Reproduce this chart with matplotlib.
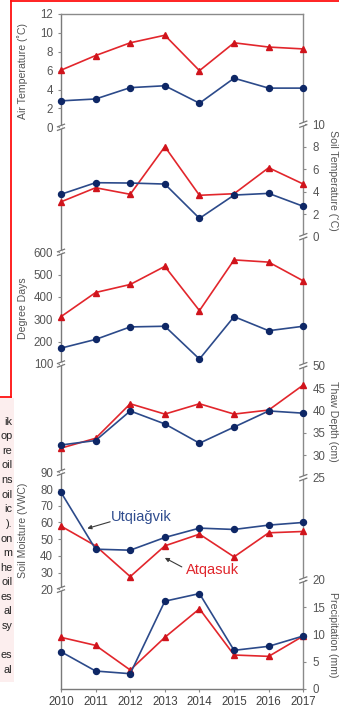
import matplotlib
matplotlib.use('Agg')
import matplotlib.pyplot as plt
from matplotlib.lines import Line2D
from matplotlib.patches import Rectangle

plt.rcParams['font.family'] = ['Liberation Sans', 'DejaVu Sans']

# ---------------- data ----------------
years = [2010, 2011, 2012, 2013, 2014, 2015, 2016, 2017]
air_utq = [2.8, 3.0, 4.2, 4.4, 2.55, 5.2, 4.15, 4.15]
air_atq = [6.05, 7.6, 8.95, 9.75, 6.0, 8.95, 8.5, 8.3]
soil_utq = [3.77, 4.8, 4.77, 4.68, 1.63, 3.7, 3.85, 2.7]
soil_atq = [3.1, 4.35, 3.77, 8.0, 3.68, 3.82, 6.13, 4.68]
dd_utq = [171, 210, 266, 269, 122, 312, 249, 269]
dd_atq = [312, 420, 456, 537, 339, 566, 556, 472]
thaw_utq = [32.3, 33.3, 39.9, 37.0, 32.7, 36.3, 39.9, 39.4]
thaw_atq = [31.6, 33.8, 41.5, 39.2, 41.5, 39.2, 40.1, 45.7]
moist_utq = [78, 44, 43.4, 51, 56.6, 55.8, 58.4, 60]
moist_atq = [57.8, 46, 27.6, 46, 53, 39.4, 53.8, 54.6]
precip_utq = [6.8, 3.25, 2.76, 16.1, 17.5, 7.06, 7.8, 9.7]
precip_atq = [9.45, 7.97, 3.44, 9.45, 14.7, 6.2, 5.95, 9.7]

site_names = ['Utqiağvik', 'Atqasuk']
panel_labels = ['Air Temperature (˚C)', 'Soil Temperature (˚C)', 'Degree Days',
                'Thaw Depth (cm)', 'Soil Moisture (VWC)', 'Precipitation (mm)']
side_fragments = ['ik', 'op', 're', 'oil', 'ns', 'oil', 'ic', ').', 'on', 'm',
                  'he', 'oil', 'es', 'al', 'sy', '', 'es', 'al']

# ---------------- style ----------------
W, H = 339, 707
BLUE_L, BLUE_M = '#2C4A8A', '#0E2766'
RED_L, RED_M = '#E2262C', '#D0141C'
SPINE = '#8A8A8A'
TXT = '#555555'

fig = plt.figure(figsize=(W / 100, H / 100), dpi=100)
fig.patch.set_facecolor('white')

X0, X1 = 61.0, 303.3


def fx(px):
    return px / W


def fy(py):
    return 1 - py / H


def px_axes(top, bot, x0=X0, x1=X1):
    return fig.add_axes([fx(x0), fy(bot), (x1 - x0) / W, (bot - top) / H])


# frame axes (continuous spines + year axis)
frame = px_axes(14.0, 688.7)
frame.set_xlim(years[0], years[-1])
frame.set_ylim(0, 1)
frame.set_yticks([])
frame.set_xticks(years)
frame.set_xticklabels([str(y) for y in years])
for s in frame.spines.values():
    s.set_color(SPINE)
    s.set_linewidth(1.0)
frame.spines['left'].set_color('#7A7A7A')
frame.spines['bottom'].set_color('#7A7A7A')
frame.tick_params(axis='x', direction='out', length=2.5, width=0.8, color=SPINE,
                  labelsize=8.3, labelcolor='#404040', pad=3)

panels = [
    # top px, bottom px, ylim, ticks, side, utq, atq
    (14.0, 127.3, (0, 12), range(0, 13, 2), 'left', air_utq, air_atq),
    (124.2, 236.7, (0, 10), range(0, 11, 2), 'right', soil_utq, soil_atq),
    (252.3, 364.0, (100, 600), range(100, 601, 100), 'left', dd_utq, dd_atq),
    (365.7, 477.7, (25, 50), range(25, 51, 5), 'right', thaw_utq, thaw_atq),
    (472.3, 589.3, (20, 90), range(20, 91, 10), 'left', moist_utq, moist_atq),
    (580.0, 688.7, (0, 20), range(0, 21, 5), 'right', precip_utq, precip_atq),
]

axes = []
for i, (top, bot, ylim, ticks, side, utq, atq) in enumerate(panels):
    ax = px_axes(top, bot)
    ax.set_facecolor('none')
    ax.set_xlim(years[0], years[-1])
    ax.set_ylim(*ylim)
    ax.set_xticks([])
    for s in ax.spines.values():
        s.set_visible(False)
    ax.set_yticks(list(ticks))
    if side == 'right':
        ax.yaxis.tick_right()
        ax.tick_params(axis='y', direction='out', length=2.2, width=0.8, color=SPINE,
                       labelsize=8.3, labelcolor=TXT, pad=4.5)
    else:
        ax.yaxis.tick_left()
        ax.tick_params(axis='y', direction='out', length=2.2, width=0.8, color=SPINE,
                       labelsize=8.3, labelcolor=TXT, pad=3.5)
    ax.plot(years, atq, color=RED_L, lw=1.2, marker='^', ms=4.6,
            mfc=RED_M, mec=RED_M, clip_on=False, zorder=3)
    ax.plot(years, utq, color=BLUE_L, lw=1.2, marker='o', ms=4.3,
            mfc=BLUE_M, mec=BLUE_M, clip_on=False, zorder=4)
    # axis label
    cy = (top + bot) / 2
    if side == 'left':
        fig.text(fx(22.5), fy(cy), panel_labels[i], rotation=90, ha='center',
                 va='center', fontsize=7.6, color=TXT)
    else:
        fig.text(fx(333.5), fy(cy), panel_labels[i], rotation=270, ha='center',
                 va='center', fontsize=7.6, color=TXT)
    axes.append(ax)

# annotations on soil moisture panel
ax_m = axes[4]
ax_m.text(2012.33, 63.0, site_names[0], color='#2F4C8E', fontsize=10.5,
          ha='center', va='center')
ax_m.annotate('', xy=(2010.76, 56.4), xytext=(2011.42, 60.4),
              arrowprops=dict(arrowstyle='-|>', color='#3A3A3A', lw=0.8,
                              mutation_scale=6, shrinkA=0, shrinkB=0))
ax_m.text(2014.39, 31.4, site_names[1], color='#E0262C', fontsize=10.5,
          ha='center', va='center')
ax_m.annotate('', xy=(2013.0, 38.8), xytext=(2013.49, 33.4),
              arrowprops=dict(arrowstyle='-|>', color='#3A3A3A', lw=0.8,
                              mutation_scale=6, shrinkA=0, shrinkB=0))


# axis break marks
def brk(xp, yp):
    fig.add_artist(Rectangle((fx(xp - 1.2), fy(yp + 2.0)), 2.4 / W, 4.0 / H,
                             transform=fig.transFigure, facecolor='white',
                             edgecolor='none', zorder=5))
    for dy in (-1.8, 1.8):
        fig.add_artist(Line2D([fx(xp - 3.5), fx(xp + 3.5)],
                              [fy(yp + dy + 1.3), fy(yp + dy - 1.3)],
                              transform=fig.transFigure, color='#777777',
                              lw=0.9, zorder=6))


for yp in (127.3, 252.3, 364.0, 472.3, 589.3):
    brk(X0, yp)
for yp in (124.2, 236.7, 365.7, 477.7, 580.0):
    brk(X1, yp)

# neighbouring page elements (cropped)
fig.add_artist(Rectangle((0, fy(682)), fx(13.5), (682 - 398) / H,
                         transform=fig.transFigure, facecolor='#FCEEEE',
                         edgecolor='none', zorder=0))
for k, frag in enumerate(side_fragments):
    if frag:
        fig.text(fx(12.3), fy(421.7 + 14.6 * k), frag, ha='right', va='center',
                 fontsize=7.8, color='#222222')
red_kw = dict(transform=fig.transFigure, color='#FF1010', lw=1.3, zorder=7)
fig.add_artist(Line2D([fx(11), fx(11)], [fy(0), fy(397)], **red_kw))
fig.add_artist(Line2D([fx(0), fx(11)], [fy(397), fy(397)], **red_kw))
fig.add_artist(Line2D([fx(11), fx(339)], [fy(0.8), fy(0.8)], **red_kw))

fig.savefig('out.png', dpi=100)
